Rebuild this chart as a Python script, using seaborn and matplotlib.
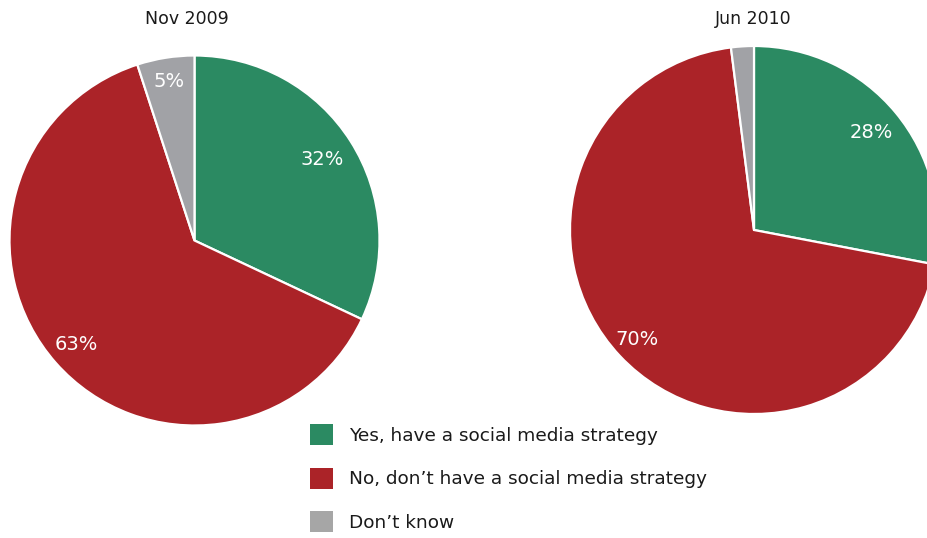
import matplotlib
matplotlib.use("Agg")
import matplotlib.pyplot as plt
from matplotlib.patches import Patch
import numpy as np
import seaborn as sns

# Survey responses: does the organisation have a social media strategy?
categories = ["Yes, have a social media strategy",
              "No, don\u2019t have a social media strategy",
              "Don\u2019t know"]
periods = ["Nov 2009", "Jun 2010"]
nov_2009 = [32, 63, 5]
jun_2010 = [28, 70, 2]
# Percent labels shown on each pie (small slices left unlabelled)
nov_2009_labels = ["32%", "63%", "5%"]
jun_2010_labels = ["28%", "70%", ""]

sns.set_theme(style="white")
plt.rcParams["font.family"] = ["DejaVu Sans"]
palette = sns.color_palette(["#2b8a62", "#ab2328", "#a1a2a6"])
legend_colors = sns.color_palette(["#2b8a62", "#ab2328", "#a6a6a6"])

W, H = 928, 538
fig = plt.figure(figsize=(W / 100, H / 100), dpi=100)


def px_axes(cx, cy, r):
    """Square axes centred at pixel (cx, cy) measured from the top-left."""
    return fig.add_axes([(cx - r) / W, (H - cy - r) / H, 2 * r / W, 2 * r / H])


def draw_pie(ax, values, labels, title, title_xy, pct_dist):
    ax.pie(values, colors=palette, startangle=90, counterclock=False,
           wedgeprops=dict(edgecolor="white", linewidth=1.6))
    total = float(sum(values))
    start = 90.0
    for v, lab, d in zip(values, labels, pct_dist):
        mid = np.deg2rad(start - 360.0 * v / total / 2)
        start -= 360.0 * v / total
        if lab:
            ax.text(d * np.cos(mid), d * np.sin(mid), lab, ha="center",
                    va="center", color="white", fontsize=14)
    ax.set_xlim(-1, 1)
    ax.set_ylim(-1, 1)
    ax.set_aspect("equal")
    ax.axis("off")
    fig.text(title_xy[0] / W, 1 - title_xy[1] / H, title, ha="center",
             va="center", fontsize=12.5, color="#1a1a1a")


ax1 = px_axes(194.5, 240.5, 185)
draw_pie(ax1, nov_2009, nov_2009_labels, periods[0], (187, 19.5), [0.82, 0.85, 0.87])

ax2 = px_axes(754, 230, 184)
draw_pie(ax2, jun_2010, jun_2010_labels, periods[1], (753, 18.5), [0.83, 0.87, 0.87])

handles = [Patch(facecolor=c, edgecolor="none") for c in legend_colors]
fig.legend(handles, categories, loc="upper left",
           bbox_to_anchor=(310 / W, 1 - 424 / H), frameon=False,
           fontsize=13.3, handlelength=1.24, handleheight=1.4,
           handletextpad=0.86, labelspacing=1.2, borderpad=0,
           borderaxespad=0, labelcolor="#1a1a1a")

fig.savefig("out.png", dpi=100)
